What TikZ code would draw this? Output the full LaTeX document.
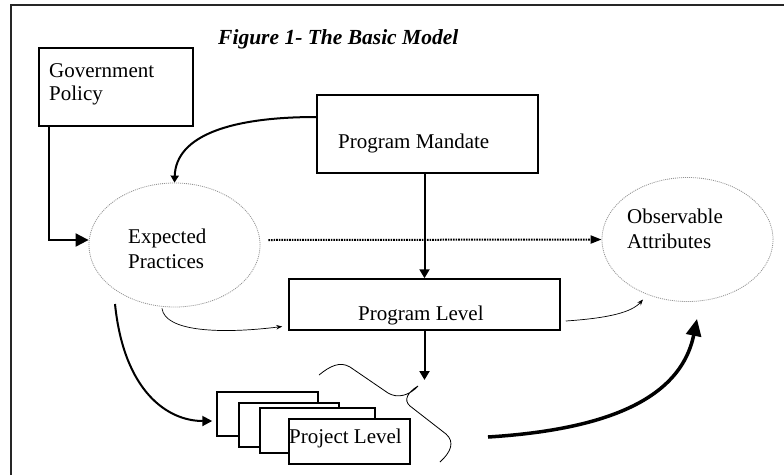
\documentclass[tikz,border=0pt]{standalone}
\usepackage{fontspec}
\setmainfont{Liberation Serif}
\usetikzlibrary{arrows.meta,shapes.geometric}
\begin{document}
\begin{tikzpicture}[x=1pt,y=-1pt,
  box/.style={draw, line width=1.5pt, fill=white, inner sep=0pt},
  oval/.style={ellipse, draw=gray!85, dash pattern=on 1pt off 1pt, line width=0.8pt,
    inner sep=0pt, minimum width=171pt, minimum height=124pt},
  lbl/.style={anchor=base west, inner sep=0pt, font=\fontsize{21}{23}\selectfont, align=left},
  link/.style={line width=2pt},
  thinlink/.style={line width=0.7pt, -{Stealth[length=6pt,width=4.5pt]}},
  bigtip/.style={-{Triangle[length=13pt,width=13pt]}},
  midtip/.style={-{Triangle[length=9pt,width=10pt]}},
  smalltip/.style={-{Triangle[length=7pt,width=8pt]}},
]
\useasboundingbox (0,0) rectangle (784,475);
\fill[white] (0,0) rectangle (784,475);

% outer frame (left and top edges)
\draw[line width=2pt, black!85] (11,475) -- (11,5) -- (784,5);

% title
\node[lbl, font=\fontsize{21.5}{23}\selectfont\bfseries\itshape] (title) at (218,44) {Figure 1- The Basic Model};

% boxes (multi-line labels are anchored at the baseline of their last line)
\node[box, minimum width=154pt, minimum height=78pt] (gp) at (116,87) {};
\node[lbl] (gpt) at (49,100) {Government\\Policy};

\node[box, minimum width=221pt, minimum height=78pt] (pm) at (427.5,134) {};
\node[lbl] (pmt) at (338,148) {Program Mandate};

\node[box, minimum width=271pt, minimum height=51pt] (pl) at (424.5,304.5) {};
\node[lbl] (plt) at (358,320) {Program Level};

% ellipses
\node[oval] (ep) at (174.5,245) {};
\node[lbl] (ept) at (128,268) {Expected\\[2pt]Practices};

\node[oval] (oa) at (687.5,239.5) {};
\node[lbl] (oat) at (627,248) {Observable\\[2pt]Attributes};

% stacked project boxes
\node[box, minimum width=101pt, minimum height=44pt] (pj1) at (267.5,414) {};
\node[box, minimum width=100pt, minimum height=44pt] (pj2) at (289,425) {};
\node[box, minimum width=115pt, minimum height=45pt] (pj3) at (317.5,430.5) {};
\node[box, minimum width=121pt, minimum height=45pt] (pj4) at (349.5,441.5) {};
\node[lbl] (pjt) at (289,443) {Project Level};

% connectors
\draw[link, bigtip] ([xshift=11pt]gp.south west) |- ([yshift=5pt]ep.west);

\draw[link, smalltip] ([yshift=17pt]pm.west)
  .. controls (232,117) and (176,135) .. (ep.north);

\draw[link, midtip] (pm.south -| pl.north) -- (pl.north);

\draw[line width=2pt, dash pattern=on 1.6pt off 1pt, -{Triangle[length=11pt,width=8pt]}]
  ([xshift=8pt,yshift=5pt]ep.east) -- (oa.west);

\coordinate (brtip) at (424.5,380);
\draw[link, midtip] (pl.south) -- (brtip);

\draw[thinlink] ([xshift=-12.5pt,yshift=-1pt]ep.south)
  .. controls (165,332) and (222,334) .. ([xshift=-6pt,yshift=-22pt]pl.west);

\draw[thinlink] ([xshift=5pt,yshift=-16.5pt]pl.east)
  .. controls (610,318) and (632,312) .. ([xshift=-44.5pt,yshift=-60pt]oa.center);

\draw[link, -{Triangle[length=10pt,width=10pt]}] ([xshift=-59.5pt,yshift=-59pt]ep.center)
  .. controls (124,392) and (168,421) .. ([xshift=-4pt,yshift=-7pt]pj1.west);

\coordinate (pjout) at (488,437);
\draw[line width=3.5pt, -{Triangle[length=17pt,width=15pt]}] (pjout)
  .. controls (600,430) and (680,402) .. ([xshift=9.5pt,yshift=-17pt]oa.south);

% brace grouping the project boxes
\draw[line width=0.8pt] (319,375) .. controls (330,366) and (340,361) .. (350,367)
  -- (388,393) .. controls (398,399) and (410,395) .. (418,386)
  .. controls (408,392) and (403,400) .. (410,406)
  -- (446,434) .. controls (455,442) and (451,452) .. (440,462);
\end{tikzpicture}
\end{document}
